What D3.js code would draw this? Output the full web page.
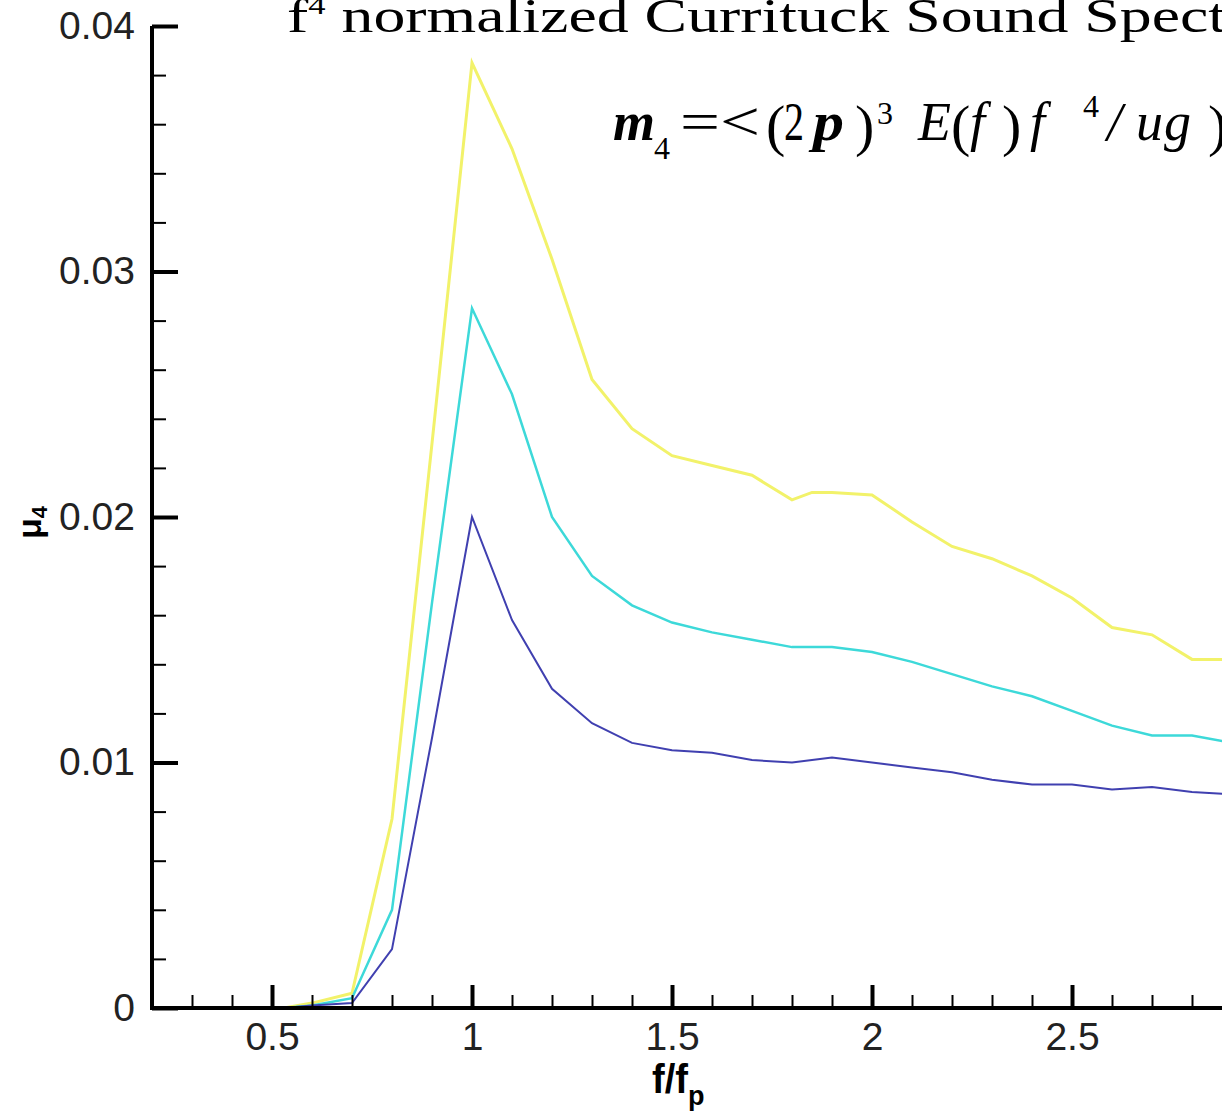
<!DOCTYPE html>
<html>
<head>
<meta charset="utf-8">
<script src="https://cdn.jsdelivr.net/npm/d3@7"></script>
<style>
  body { margin: 0; background: #fff; }
  svg { display: block; }
</style>
</head>
<body>
<div id="chart"></div>
<script>
// Data (f/fp vs mu4)
const fRatio = [0.53, 0.6, 0.7, 0.8, 0.9, 1.0, 1.1, 1.2, 1.3, 1.4, 1.5, 1.6, 1.7, 1.8, 1.85, 1.9, 2.0, 2.1, 2.2, 2.3, 2.4, 2.5, 2.6, 2.7, 2.8, 2.9];
const muYellow = [0, 0.0002, 0.0006, 0.0077, 0.0230, 0.0385, 0.0350, 0.0305, 0.0256, 0.0236, 0.0225, 0.0221, 0.0217, 0.0207, 0.0210, 0.0210, 0.0209, 0.0198, 0.0188, 0.0183, 0.0176, 0.0167, 0.0155, 0.0152, 0.0142, 0.0142];
const muCyan = [0, 0.0001, 0.0004, 0.0040, 0.0165, 0.0285, 0.0250, 0.0200, 0.0176, 0.0164, 0.0157, 0.0153, 0.0150, 0.0147, 0.0147, 0.0147, 0.0145, 0.0141, 0.0136, 0.0131, 0.0127, 0.0121, 0.0115, 0.0111, 0.0111, 0.0108];
const muBlue = [0, 0.0001, 0.0002, 0.0024, 0.0110, 0.0200, 0.0158, 0.0130, 0.0116, 0.0108, 0.0105, 0.0104, 0.0101, 0.0100, 0.0101, 0.0102, 0.0100, 0.0098, 0.0096, 0.0093, 0.0091, 0.0091, 0.0089, 0.0090, 0.0088, 0.0087];

const xMajor = [0.5, 1, 1.5, 2, 2.5];
const xMinor = d3.range(3, 31).map(d => d / 10);
const yMajor = [0, 0.01, 0.02, 0.03, 0.04];
const yMinor = d3.range(0, 21).map(d => d * 0.002);

const width = 1222, height = 1111;

const svg = d3.select("#chart")
    .append("svg")
    .attr("width", width)
    .attr("height", height);

// Scales
const x = d3.scaleLinear().domain([0.2, 3]).range([152, 1272]);
const y = d3.scaleLinear().domain([0, 0.04]).range([1008, 26]);

// Lines
const series = [
    {values: muYellow, color: "#f2f26a", w: 3},
    {values: muCyan, color: "#3dd9d9", w: 2.5},
    {values: muBlue, color: "#4040b0", w: 2}
];
const line = d3.line()
    .x((d, i) => x(fRatio[i]))
    .y(d => y(d));

svg.selectAll("path.series")
    .data(series)
    .join("path")
    .attr("class", "series")
    .attr("d", d => line(d.values))
    .attr("fill", "none")
    .attr("stroke", d => d.color)
    .attr("stroke-width", d => d.w);

// X axis minor + major ticks (pointing inward)
svg.append("g")
    .attr("transform", `translate(0, ${y(0)})`)
    .call(d3.axisBottom(x).tickValues(xMinor).tickSize(-13).tickFormat(""))
    .call(g => g.select(".domain").remove())
    .call(g => g.selectAll("line").attr("stroke", "#000").attr("stroke-width", 2));

svg.append("g")
    .attr("transform", `translate(0, ${y(0)})`)
    .call(d3.axisBottom(x).tickValues(xMajor).tickSize(-23).tickPadding(14).tickFormat(d3.format("")))
    .call(g => g.select(".domain").remove())
    .call(g => g.selectAll("line").attr("stroke", "#000").attr("stroke-width", 4))
    .call(g => g.selectAll("text")
        .attr("font-family", "'Liberation Sans', Arial, sans-serif")
        .attr("font-size", 39)
        .attr("fill", "#222"));

// Y axis minor + major ticks
svg.append("g")
    .attr("transform", `translate(${x(0.2)}, 0)`)
    .call(d3.axisLeft(y).tickValues(yMinor).tickSize(-14).tickFormat(""))
    .call(g => g.select(".domain").remove())
    .call(g => g.selectAll("line").attr("stroke", "#000").attr("stroke-width", 2));

svg.append("g")
    .attr("transform", `translate(${x(0.2)}, 0)`)
    .call(d3.axisLeft(y).tickValues(yMajor).tickSize(-26).tickPadding(17)
        .tickFormat(d => d === 0 ? "0" : d.toFixed(2)))
    .call(g => g.select(".domain").remove())
    .call(g => g.selectAll("line").attr("stroke", "#000").attr("stroke-width", 4))
    .call(g => g.selectAll("text")
        .attr("font-family", "'Liberation Sans', Arial, sans-serif")
        .attr("font-size", 39)
        .attr("fill", "#222"));

// Axis lines
svg.append("line")
    .attr("x1", x(0.2) - 2).attr("x2", width)
    .attr("y1", y(0)).attr("y2", y(0))
    .attr("stroke", "#000").attr("stroke-width", 4);
svg.append("line")
    .attr("x1", x(0.2)).attr("x2", x(0.2))
    .attr("y1", y(0.04)).attr("y2", y(0) + 2)
    .attr("stroke", "#000").attr("stroke-width", 4);

// Axis titles
const xt = svg.append("text")
    .attr("x", 652).attr("y", 1093)
    .attr("font-family", "'Liberation Sans', Arial, sans-serif")
    .attr("font-weight", "bold")
    .attr("font-size", 40)
    .attr("fill", "#000");
xt.append("tspan").attr("textLength", 36).attr("lengthAdjust", "spacingAndGlyphs").text("f/f");
xt.append("tspan").attr("font-size", 27).attr("dy", 12).text("p");

const yt = svg.append("text")
    .attr("transform", "translate(41, 539) rotate(-90)")
    .attr("font-family", "'Liberation Sans', Arial, sans-serif")
    .attr("font-weight", "bold")
    .attr("font-size", 34)
    .attr("fill", "#000");
yt.append("tspan").text("μ");
yt.append("tspan").attr("font-size", 22).attr("dy", 6).text("4");

// Title (cut by the right edge, as in the reference)
const title = svg.append("text")
    .attr("transform", "translate(287, 32) scale(1.33, 1)")
    .attr("font-family", "'Liberation Serif', 'Times New Roman', serif")
    .attr("font-size", 48)
    .attr("fill", "#000");
title.append("tspan").text("f");
title.append("tspan").attr("font-size", 26).attr("dy", -18).text("4");
title.append("tspan").attr("dy", 18).text(" normalized Currituck Sound Spectra");

// Formula line
const eq = svg.append("g")
    .attr("font-family", "'Liberation Serif', 'Times New Roman', serif")
    .attr("fill", "#000");
const piece = (txt, px, py, size, opts = {}) => {
    const t = eq.append("text")
        .attr("x", px).attr("y", py)
        .attr("font-size", size)
        .attr("font-style", opts.italic ? "italic" : "normal")
        .attr("font-weight", opts.bold ? "bold" : "normal")
        .text(txt);
    if (opts.len) t.attr("textLength", opts.len).attr("lengthAdjust", "spacingAndGlyphs");
    return t;
};
piece("m", 613, 140, 54, {italic: true, bold: true});
piece("4", 654, 159, 32);
piece("=<", 680, 140, 54, {len: 80});
piece("(", 766, 145, 58);
piece("2", 784, 140, 54, {len: 20});
piece("p", 813, 140, 54, {italic: true, bold: true, len: 31});
piece(")", 855, 145, 58);
piece("3", 877, 124, 32);
piece("E", 918, 140, 54, {italic: true});
piece("(", 951, 145, 58);
piece("f", 970, 140, 54, {italic: true});
piece(")", 1002, 145, 58);
piece("f", 1030, 140, 54, {italic: true});
piece("4", 1083, 117, 32);
piece("/", 1107, 140, 54, {italic: true});
piece("u", 1136, 140, 54, {italic: true});
piece("g", 1164, 140, 54, {italic: true});
piece(")", 1208, 145, 58);
</script>
</body>
</html>
